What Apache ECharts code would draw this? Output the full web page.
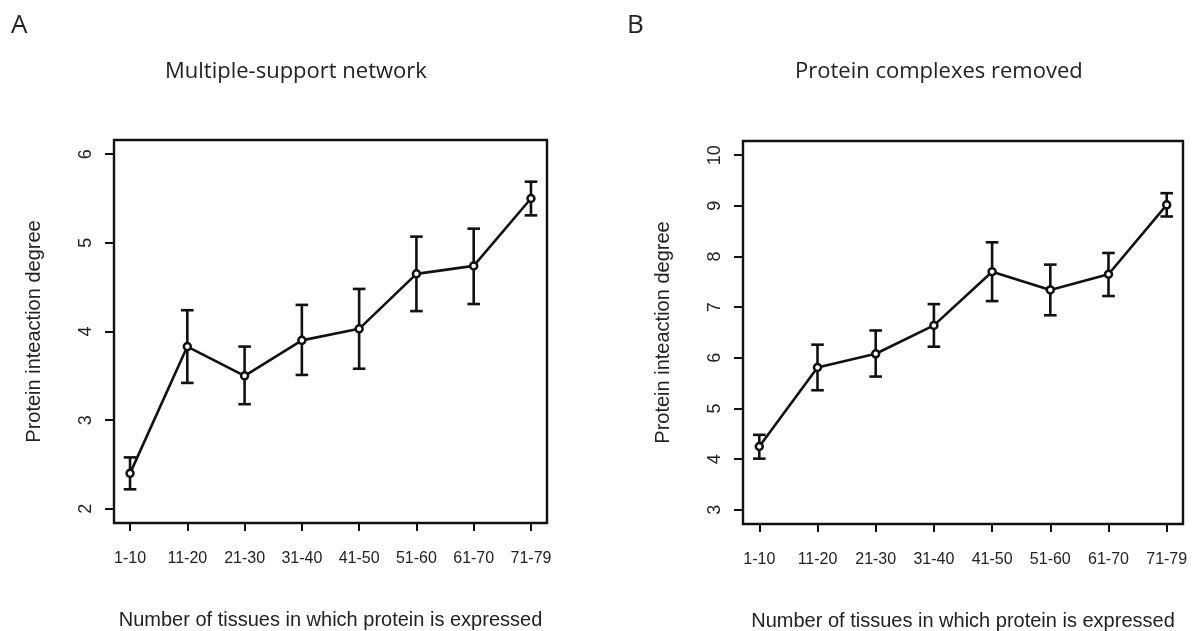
<!DOCTYPE html>
<html>
<head>
<meta charset="utf-8">
<script src="https://cdn.jsdelivr.net/npm/echarts@6/dist/echarts.min.js"></script>
<style>
html, body { margin: 0; padding: 0; background: #fff; }
#chart { width: 1202px; height: 631px; }
</style>
</head>
<body>
<div id="chart"></div>
<script>
// x categories (tissue count bins)
var categories = ['1-10', '11-20', '21-30', '31-40', '41-50', '51-60', '61-70', '71-79'];

// panel A - multiple-support network
var meanA = [2.40, 3.83, 3.50, 3.90, 4.03, 4.65, 4.74, 5.50];
var lowA = [2.22, 3.42, 3.18, 3.51, 3.58, 4.23, 4.31, 5.31];
var highA = [2.58, 4.24, 3.83, 4.30, 4.48, 5.07, 5.16, 5.69];
var yTicksA = [2, 3, 4, 5, 6];

// panel B - protein complexes removed
var meanB = [4.25, 5.81, 6.08, 6.64, 7.70, 7.34, 7.65, 9.02];
var lowB = [4.01, 5.36, 5.63, 6.22, 7.12, 6.84, 7.22, 8.79];
var highB = [4.48, 6.26, 6.54, 7.06, 8.28, 7.84, 8.07, 9.25];
var yTicksB = [3, 4, 5, 6, 7, 8, 9, 10];

var xPos = categories.map(function (c, i) { return i + 1; });
var axisFont = 'Liberation Sans, Arial, sans-serif';
var titleFont = 'Open Sans, sans-serif';
var ink = '#111';

function pts(mean) {
  return mean.map(function (v, i) { return [xPos[i], v]; });
}
function bars(low, high) {
  return low.map(function (v, i) { return [xPos[i], v, high[i]]; });
}

// error bar with caps
function renderBar(params, api) {
  var lo = api.coord([api.value(0), api.value(1)]);
  var hi = api.coord([api.value(0), api.value(2)]);
  var w = 6.3;
  var st = { stroke: ink, lineWidth: 2.6 };
  return {
    type: 'group',
    children: [
      { type: 'line', shape: { x1: lo[0], y1: lo[1], x2: hi[0], y2: hi[1] }, style: st },
      { type: 'line', shape: { x1: lo[0] - w, y1: lo[1], x2: lo[0] + w, y2: lo[1] }, style: st },
      { type: 'line', shape: { x1: hi[0] - w, y1: hi[1], x2: hi[0] + w, y2: hi[1] }, style: st }
    ]
  };
}

function xAxisFor(idx) {
  return {
    type: 'value', gridIndex: idx,
    min: 0.72, max: 8.28,
    name: 'Number of tissues in which protein is expressed',
    nameLocation: 'middle', nameGap: 87,
    nameTextStyle: { fontFamily: axisFont, fontSize: 20, color: '#222' },
    axisLine: { show: false },
    splitLine: { show: false },
    axisTick: { show: true, length: 8, customValues: xPos, lineStyle: { color: ink, width: 2 } },
    axisLabel: {
      customValues: xPos, margin: 28,
      fontFamily: axisFont, fontSize: 16, color: '#222',
      formatter: function (v) { return categories[Math.round(v) - 1]; }
    }
  };
}

function yAxisFor(idx, lo, hi, ticks) {
  return {
    type: 'value', gridIndex: idx,
    min: lo, max: hi,
    name: 'Protein inteaction degree',
    nameLocation: 'middle', nameGap: 70,
    nameTextStyle: { fontFamily: axisFont, fontSize: 20, color: '#222' },
    axisLine: { show: false },
    splitLine: { show: false },
    axisTick: { show: true, length: 9, customValues: ticks, lineStyle: { color: ink, width: 2 } },
    axisLabel: {
      customValues: ticks, rotate: 90, margin: 19,
      fontFamily: axisFont, fontSize: 18, color: '#222'
    }
  };
}

var chart = echarts.init(document.getElementById('chart'));
chart.setOption({
  backgroundColor: '#fff',
  animation: false,
  title: [
    { text: 'A', left: 6, top: 8, textStyle: { fontFamily: titleFont, fontWeight: 'normal', fontSize: 26, color: '#222' } },
    { text: 'B', left: 622, top: 8, textStyle: { fontFamily: titleFont, fontWeight: 'normal', fontSize: 26, color: '#222' } },
    { text: 'Multiple-support network', left: 160, top: 56, textStyle: { fontFamily: titleFont, fontWeight: 'normal', fontSize: 22, color: '#222' } },
    { text: 'Protein complexes removed', left: 790, top: 56, textStyle: { fontFamily: titleFont, fontWeight: 'normal', fontSize: 22, color: '#222' } }
  ],
  grid: [
    { left: 114, top: 140, width: 433, height: 383, outerBoundsMode: 'none', containLabel: false, show: true, borderColor: ink, borderWidth: 2.4, backgroundColor: 'transparent' },
    { left: 743, top: 141, width: 440, height: 383, outerBoundsMode: 'none', containLabel: false, show: true, borderColor: ink, borderWidth: 2.4, backgroundColor: 'transparent' }
  ],
  xAxis: [xAxisFor(0), xAxisFor(1)],
  yAxis: [yAxisFor(0, 1.84, 6.16, yTicksA), yAxisFor(1, 2.72, 10.28, yTicksB)],
  series: [
    { type: 'custom', xAxisIndex: 0, yAxisIndex: 0, renderItem: renderBar, data: bars(lowA, highA), z: 2 },
    {
      type: 'line', xAxisIndex: 0, yAxisIndex: 0, data: pts(meanA), z: 3,
      symbol: 'circle', symbolSize: 7, showAllSymbol: true,
      lineStyle: { color: ink, width: 2.6 },
      itemStyle: { color: '#fff', borderColor: ink, borderWidth: 2.5 }
    },
    { type: 'custom', xAxisIndex: 1, yAxisIndex: 1, renderItem: renderBar, data: bars(lowB, highB), z: 2 },
    {
      type: 'line', xAxisIndex: 1, yAxisIndex: 1, data: pts(meanB), z: 3,
      symbol: 'circle', symbolSize: 7, showAllSymbol: true,
      lineStyle: { color: ink, width: 2.6 },
      itemStyle: { color: '#fff', borderColor: ink, borderWidth: 2.5 }
    }
  ]
});
</script>
</body>
</html>
